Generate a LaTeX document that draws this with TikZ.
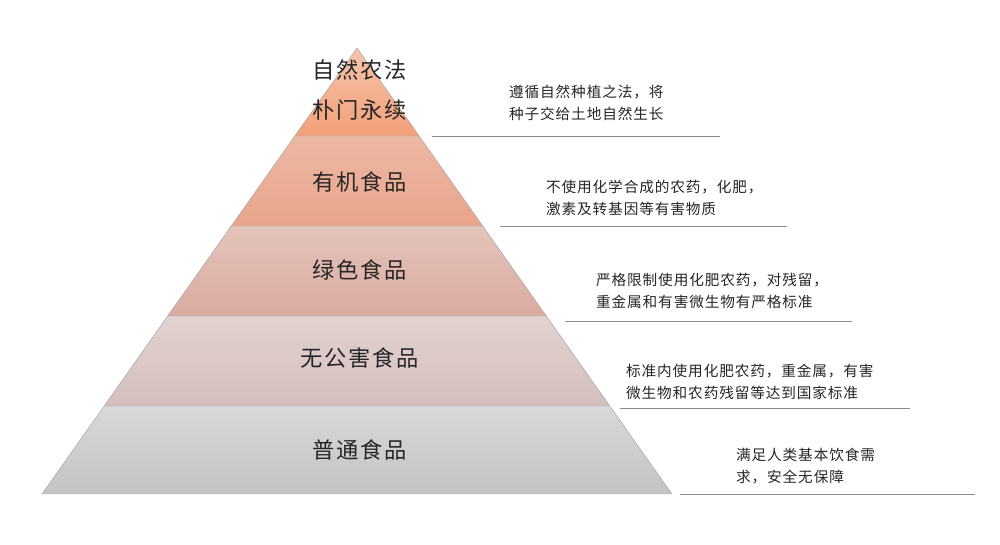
\documentclass[tikz,border=0pt]{standalone}
\usepackage{fontspec}
\newfontfamily\cjk[LetterSpace=8]{Noto Sans CJK SC}
\newfontfamily\cjknote[LetterSpace=6]{Noto Sans CJK SC}
\begin{document}
\begin{tikzpicture}[x=0.03cm,y=-0.03cm,
  layer/.style={draw=black!35, line width=0.4pt},
  lvl/.style={font=\cjk\fontsize{19}{34}\selectfont, align=center, text=black!85},
  note/.style={font=\cjknote\fontsize{12.5}{19}\selectfont, align=left, anchor=west, text=black!85},
  rule/.style={draw=black!45, line width=0.5pt}]
\useasboundingbox (0,0) rectangle (1000,545);
% pyramid layers
\shade[layer, top color={rgb,255:red,246;green,196;blue,170}, bottom color={rgb,255:red,242;green,160;blue,122}] (357,48) -- (419.2,136) -- (294.8,136) -- cycle;
\shade[layer, top color={rgb,255:red,236;green,184;blue,164}, bottom color={rgb,255:red,232;green,164;blue,138}] (294.8,136) -- (419.2,136) -- (482.7,226) -- (231.3,226) -- cycle;
\shade[layer, top color={rgb,255:red,228;green,196;blue,186}, bottom color={rgb,255:red,218;green,170;blue,160}] (231.3,226) -- (482.7,226) -- (546.3,316) -- (167.7,316) -- cycle;
\shade[layer, top color={rgb,255:red,226;green,210;blue,208}, bottom color={rgb,255:red,212;green,190;blue,190}] (167.7,316) -- (546.3,316) -- (609.8,406) -- (104.2,406) -- cycle;
\shade[layer, top color={rgb,255:red,216;green,216;blue,216}, bottom color={rgb,255:red,196;green,196;blue,196}] (104.2,406) -- (609.8,406) -- (672,494) -- (42,494) -- cycle;
% labels
\node[lvl] (ziran) at (360,90) {自然农法\\朴门永续};
\node[lvl] (youji) at (360,182) {有机食品};
\node[lvl] (lvse) at (360,270) {绿色食品};
\node[lvl] (wugong) at (360,358) {无公害食品};
\node[lvl] (putong) at (360,450) {普通食品};
% notes
\node[note] (n1) at (505,103) {遵循自然种植之法，将\\种子交给土地自然生长};
\node[note] (n2) at (542,198) {不使用化学合成的农药，化肥，\\激素及转基因等有害物质};
\node[note] (n3) at (592,291) {严格限制使用化肥农药，对残留，\\重金属和有害微生物有严格标准};
\node[note] (n4) at (622,382) {标准内使用化肥农药，重金属，有害\\微生物和农药残留等达到国家标准};
\node[note] (n5) at (732,466) {满足人类基本饮食需\\求，安全无保障};
\coordinate (a1) at (432,136); \coordinate (b1) at (720,136);
\coordinate (a2) at (500,226); \coordinate (b2) at (787,226);
\coordinate (a3) at (565,321); \coordinate (b3) at (852,321);
\coordinate (a4) at (620,408); \coordinate (b4) at (910,408);
\coordinate (a5) at (680,494); \coordinate (b5) at (975,494);
\foreach \i in {1,...,5}
  \draw[rule] (a\i) -- (b\i);
\end{tikzpicture}
\end{document}
